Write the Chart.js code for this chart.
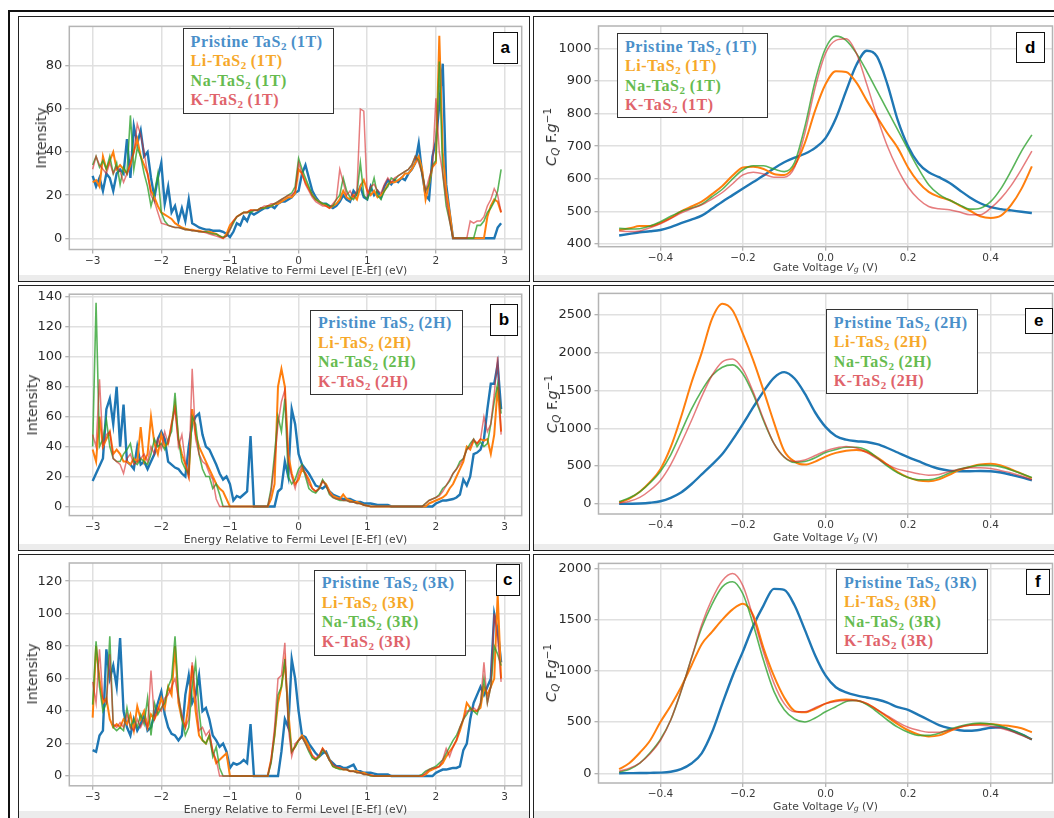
<!DOCTYPE html>
<html><head><meta charset="utf-8">
<script src="https://cdn.jsdelivr.net/npm/chart.js@4.4.0/dist/chart.umd.min.js"></script>
<style>
html,body{margin:0;padding:0;background:#fff;width:1054px;height:818px;overflow:hidden;position:relative;font-family:"DejaVu Sans",sans-serif;}
.frame{position:absolute;left:8px;top:10px;width:1100px;height:900px;box-sizing:border-box;border:2px solid #111;}
.box{position:absolute;box-sizing:border-box;border:1.5px solid #222;}
.band{position:absolute;background:#ececec;}
.leg{position:absolute;box-sizing:border-box;border:1.5px solid #333;background:#fff;font-family:"Liberation Serif","Times New Roman",serif;font-weight:bold;font-size:16px;letter-spacing:0.6px;line-height:19.5px;padding:2.5px 0 0 7px;white-space:nowrap;}
.leg sub{font-size:11px;vertical-align:-3px;line-height:0;letter-spacing:0;}
.lab{position:absolute;box-sizing:border-box;border:1.5px solid #111;background:#fff;font-family:"Liberation Sans",Arial,sans-serif;font-weight:bold;font-size:17px;display:flex;align-items:center;justify-content:center;}
.xt{position:absolute;font-size:10.8px;color:#444;white-space:nowrap;transform:translate(-50%,-50%);}
.yt{position:absolute;font-size:14px;color:#333;white-space:nowrap;transform:translate(-50%,-50%) rotate(-90deg);}
.yq{font-size:14.5px;}
.yt sub,.xt sub{font-size:0.72em;vertical-align:-0.25em;line-height:0;}
.yt sup{font-size:0.72em;vertical-align:0.5em;line-height:0;}
canvas{position:absolute;}
</style></head><body>
<div class="frame"></div>
<script>
// ---------- shared axes ----------
const energy = [-3,-2.95,-2.9,-2.85,-2.8,-2.75,-2.7,-2.65,-2.6,-2.55,
-2.5,-2.45,-2.4,-2.35,-2.3,-2.25,-2.2,-2.15,-2.1,-2.05,
-2,-1.95,-1.9,-1.85,-1.8,-1.75,-1.7,-1.65,-1.6,-1.55,
-1.5,-1.45,-1.4,-1.35,-1.3,-1.25,-1.2,-1.15,-1.1,-1.05,
-1,-0.95,-0.9,-0.85,-0.8,-0.75,-0.7,-0.65,-0.6,-0.55,
-0.5,-0.45,-0.4,-0.35,-0.3,-0.25,-0.2,-0.15,-0.1,-0.05,
0,0.05,0.1,0.15,0.2,0.25,0.3,0.35,0.4,0.45,
0.5,0.55,0.6,0.65,0.7,0.75,0.8,0.85,0.9,0.95,
1,1.05,1.1,1.15,1.2,1.25,1.3,1.35,1.4,1.45,
1.5,1.55,1.6,1.65,1.7,1.75,1.8,1.85,1.9,1.95,
2,2.05,2.1,2.15,2.2,2.25,2.3,2.35,2.4,2.45,
2.5,2.55,2.6,2.65,2.7,2.75,2.8,2.85,2.9,2.95];
const gate = [-0.5,-0.475,-0.45,-0.425,-0.4,-0.375,-0.35,-0.325,-0.3,-0.275,
-0.25,-0.225,-0.2,-0.175,-0.15,-0.125,-0.1,-0.075,-0.05,-0.025,
0,0.025,0.05,0.075,0.1,0.125,0.15,0.175,0.2,0.225,
0.25,0.275,0.3,0.325,0.35,0.375,0.4,0.425,0.45,0.475,0.5];

const energyTicks = [-3,-2,-1,0,1,2,3];
const gateTicks = [-0.4,-0.2,0,0.2,0.4];
const ticksA = [0,20,40,60,80];
const ticksB = [0,20,40,60,80,100,120,140];
const ticksC = [0,20,40,60,80,100,120];
const ticksD = [400,500,600,700,800,900,1000];
const ticksE = [0,500,1000,1500,2000,2500];
const ticksF = [0,500,1000,1500,2000];

const materials = ['Pristine TaS','Li-TaS','Na-TaS','K-TaS'];

// ---------- panel a : DOS 1T ----------
const pristine1T = [29,24,28,22,30,28,22,30,32,30, 46,28,52,44,50,38,40,28,19,28, 35,16,24,12,15,8,14,8,18,7, 6,5,4.5,4,4,3.5,3.5,3.5,3,2, 0.5,3,7,6,10,8,12,11,12,13, 14,14,15,14,16,17,17,18,19,21, 22,30,34,28,22,19,17,16,16,15, 14,15,17,20,18,17,22,20,24,19, 18,24,20,22,19,24,27,25,27,26, 28,27,30,32,35,44,30,20,18,38, 45,62,81,25,12,0,0,0,0,0, 0,0,0,0,0,0,0,0,5,7];
const li1T = [26,27,24,38,32,36,40,32,34,32, 30,34,40,46,38,34,30,22,19,15, 12,11,10,9,7,6,5,4.5,4,4, 3.5,3.5,3,3,3,2.5,2,1,0,2, 6,8,10,11,12,12,13,13,13,14, 14,15,15,16,16,17,18,19,19,21, 32,30,26,23,20,18,17,16,15,14, 15,16,18,22,19,18,20,18,24,27, 22,20,22,19,20,22,25,26,26,27, 28,30,30,32,35,38,32,18,25,33, 35,94,40,22,12,0,0,0,0,0, 0,0,0,0,0,10,15,18,17,12];
const na1T = [34,38,33,36,32,38,30,35,25,33, 30,57,32,42,38,30,24,15,21,30, 12,8,6,5.5,5,5,4.5,4,4,3.5, 3.5,3,3,3,2.5,2,2,1,0.5,1, 4,7,10,11,12,12,12,13,13,14, 14,15,15,16,17,18,19,20,21,24, 37,32,28,24,20,18,17,16,16,15, 15,18,20,28,22,19,18,21,35,20, 18,22,28,20,18,22,24,28,27,29, 30,31,32,34,38,36,30,22,25,34, 36,82,30,15,8,0,0,0,0,0, 0,0,6,6,8,12,14,17,22,32];
const k1T = [32,38,34,32,30,35,30,33,31,26, 30,35,40,53,48,40,30,20,17,12, 7,6.5,6,5.5,5,5,4.5,4,4,3.5, 3.5,3,3,2.5,2,1.5,1,0.5,0,1, 4,8,10,11,12,12,13,13,13,14, 15,15,16,16,17,18,19,20,20,22, 35,30,25,22,19,17,16,15,15,14, 16,18,32,26,20,22,19,22,60,59, 20,24,25,22,21,25,28,26,28,29, 30,31,32,34,38,35,30,22,28,33, 65,40,30,18,8,0,0,0,0,0, 8,7,8,8,10,15,18,23,20,12];

// ---------- panel b : DOS 2H ----------
const pristine2H = [17,22,27,32,65,72,55,80,40,68, 30,28,25,40,28,30,25,30,35,45, 50,45,30,28,26,25,22,20,40,55, 60,62,48,40,38,33,28,22,18,20, 15,4,7,6,8,10,47,0,0,0, 0,0,0,0,10,12,30,20,65,55, 35,28,25,22,18,14,13,12,14,10, 8,7,6,5,5,5,4,3,3,2, 2,2,1.5,1,1,1,1,0,0,0, 0,0,0,0,0,0,0,0,0,0, 2,3,4,4,4.5,5,6,8,18,14, 20,35,36,38,45,65,82,82,95,65];
const li2H = [38,30,60,40,45,50,35,38,35,30, 30,28,32,30,53,30,35,60,42,35, 48,40,42,55,68,45,35,28,20,65, 48,40,35,30,25,20,15,12,10,5, 0,0,0,0,0,0,0,0,0,0, 0,0,5,15,80,92,80,35,22,15, 18,25,22,18,12,10,12,17,15,10, 7,6,5,8,5,4,3,3,2,1, 0.5,0,0,0,0,0,0,0,0,0, 0,0,0,0,0,0,0,0,2,3, 4,5,6,8,12,15,20,25,30,40, 38,44,42,45,44,45,35,48,80,50];
const na2H = [40,136,40,45,58,40,32,30,30,35, 38,42,30,28,32,30,28,35,45,40, 42,38,45,50,76,45,30,25,22,60, 55,35,25,20,20,12,15,8,0,0, 0,0,0,0,0,0,0,0,0,0, 0,0,12,35,60,50,72,20,15,18, 25,28,20,12,10,9,12,18,14,8, 6,5,4,4,4,3,3,2,2,1, 0.5,0,0,0,0,0,0,0,0,0, 0,0,0,0,0,0,0,2,4,5, 6,8,12,14,17,22,25,30,32,38, 42,45,40,43,40,42,55,70,82,62];
const k2H = [48,40,85,40,48,50,32,30,28,22, 32,35,28,30,32,35,30,40,35,45, 38,50,42,55,65,40,48,30,20,92, 45,35,30,28,22,18,5,0,0,0, 0,0,0,0,0,0,0,0,0,0, 0,0,10,30,55,70,78,30,20,12, 22,27,22,15,12,10,12,17,14,9, 6,5,5,4,4,3,3,2,2,1, 0.5,0,0,0,0,0,0,0,0,0, 0,0,0,0,0,0,0,2,4,5, 6,7,10,14,18,22,25,28,32,38, 40,45,42,45,60,50,55,75,100,48];

// ---------- panel c : DOS 3R ----------
const pristine3R = [16,15,25,28,78,60,68,55,85,40, 30,25,35,28,32,38,28,30,38,45, 52,38,30,26,25,22,25,50,62,45, 50,62,40,42,35,25,22,18,20,15, 5,8,7,8,10,8,32,0,0,0, 0,0,0,0,0,15,35,30,72,60, 40,25,24,20,17,14,12,14,15,10, 8,6,6,5,5,6,7,3,3,2, 2,2,1.5,1,1,1,1,0,0,0, 0,0,0,0,0,0,0,0,0,0, 2,3,4,4,4.5,5,5,6,16,20, 35,45,50,55,50,55,60,100,90,70];
const li3R = [36,80,60,45,48,35,30,32,30,35, 32,38,28,43,35,40,30,38,35,40, 48,42,55,50,80,45,35,30,45,68, 40,25,22,20,25,15,8,10,12,14, 0,0,0,0,0,0,0,0,0,0, 0,0,10,25,45,55,70,40,15,18, 22,25,22,18,12,10,12,17,14,10, 6,5,5,4,4,3,3,3,2,2, 1,0.5,0,0,0,0,0,0,0,0, 0,0,0,0,0,0,0,1,3,4, 5,6,8,12,15,18,22,28,35,45, 42,40,40,42,55,50,55,60,112,60];
const na3R = [44,83,55,40,45,86,30,28,30,28, 42,30,35,30,38,32,48,25,45,38, 42,45,55,60,86,50,35,25,30,55, 70,40,22,20,25,12,18,5,0,0, 0,0,0,0,0,0,0,0,0,0, 0,0,8,25,50,55,72,35,15,18, 22,24,20,15,11,10,12,16,14,10, 6,5,4,4,4,3,3,2,2,1, 1,0,0,0,0,0,0,0,0,0, 0,0,0,0,0,0,1,3,4,5, 6,8,10,14,18,22,25,30,35,38, 42,40,38,45,60,45,55,80,75,68];
const k3R = [58,45,78,48,45,75,32,30,33,30, 38,30,28,35,30,35,30,65,35,42, 40,48,50,55,60,48,38,30,35,70, 50,28,30,25,28,15,10,0,0,0, 0,0,0,0,0,0,0,0,0,0, 0,0,10,30,60,62,82,30,12,20, 22,24,20,16,13,11,13,17,14,10, 7,6,5,4,4,3,3,2,2,1, 1,0.5,0,0,0,0,0,0,0,0, 0,0,0,0,0,0,0,2,4,5, 5,6,10,17,12,18,22,30,35,40, 40,42,40,45,70,45,55,100,85,58];

// ---------- panel d : quantum capacitance 1T ----------
const pristineCq1T = [426,431,436,439,443,452,464,475,487,508, 530,550,570,590,610,632,651,665,677,695, 725,785,870,950,993,975,890,780,700,648, 620,605,588,565,543,525,513,507,503,499, 495];
const liCq1T = [443,448,455,455,465,480,500,515,530,553, 578,610,635,637,630,615,612,640,710,810, 890,930,928,895,840,790,740,695,635,590, 560,545,535,518,502,485,480,487,520,570, 638];
const naCq1T = [448,446,447,455,468,485,500,510,522,545, 568,600,628,640,640,630,622,650,760,900, 1000,1038,1025,985,930,870,810,750,690,632, 582,552,535,520,507,510,530,570,625,685, 735];
const kCq1T = [440,438,440,450,462,478,495,508,520,538, 558,585,612,620,615,605,605,635,740,880, 985,1025,1030,985,890,790,700,630,575,538, 515,508,505,498,490,490,510,540,580,630, 685];

// ---------- panel e : quantum capacitance 2H ----------
const pristineCq2H = [0,2,5,15,35,80,150,260,390,520, 660,850,1060,1280,1490,1670,1745,1660,1460,1210, 1020,900,850,830,820,790,740,680,620,565, 510,465,440,432,432,435,432,415,385,350, 310];
const liCq2H = [20,70,160,290,460,750,1150,1600,2000,2450, 2650,2560,2250,1900,1500,1080,700,560,520,560, 625,675,705,715,690,615,520,420,350,310, 300,325,385,450,490,520,530,510,455,400, 340];
const naCq2H = [30,80,160,280,430,650,950,1250,1500,1700, 1810,1840,1720,1450,1100,800,620,550,560,610, 680,720,750,750,710,610,500,410,350,320, 320,350,410,460,490,510,510,490,450,400, 350];
const kCq2H = [10,35,85,180,310,520,800,1100,1420,1700, 1880,1920,1780,1480,1120,800,620,560,580,640, 700,740,760,740,680,600,520,460,430,400, 380,390,430,460,480,480,470,440,410,370, 320];

// ---------- panel f : quantum capacitance 3R ----------
const pristineCq3R = [0,1,2,4,6,15,40,95,195,400, 680,950,1190,1440,1640,1800,1790,1640,1400,1150, 955,840,790,760,740,720,690,645,620,570, 520,470,440,420,415,425,445,450,420,380, 330];
const liCq3R = [40,100,200,320,500,660,840,1050,1260,1380, 1500,1600,1655,1540,1220,950,740,610,595,630, 680,710,720,710,680,620,550,480,420,380, 360,370,410,450,470,480,480,470,460,440, 400];
const naCq3R = [10,40,100,200,330,520,800,1120,1420,1650, 1820,1870,1750,1450,1100,800,620,530,500,540, 600,650,700,710,670,600,520,450,400,370, 370,390,430,460,480,490,480,460,420,380, 330];
const kCq3R = [20,50,100,190,320,520,800,1120,1450,1700, 1880,1950,1830,1520,1180,880,680,600,600,640, 680,700,710,710,680,620,560,500,450,420, 400,400,420,450,470,470,460,440,410,370, 330];

// ---------- styles ----------
const lineColors = ['#1f77b4','#ff7f0e','rgba(44,160,44,0.78)','rgba(214,39,40,0.6)'];
const lineWidths = [2.4,2,1.6,1.5];
const textColors = ['#4a8fc9','#f6a82a','#66bb4f','#e0636b'];

const minus = s => String(s).replace('-', '\u2212');
const panels = [
 {lab:'a', phase:'1T', box:[18,16,530,282], plot:[69.3,26.4,521.7,249.5], xr:[-3.34,3.25], yr:[-5.2,98.3], xt:energyTicks, yt:ticksA, xs:energy, ys:[pristine1T,li1T,na1T,k1T], smooth:false,
  leg:[182.6,28.4,151.4,85.6], labBox:[492.6,32,25.4,32], band:275, xT:[295.5,270], yT:[40.6,138]},
 {lab:'b', phase:'2H', box:[18,285,530,551], plot:[69.3,294.2,521.7,515.6], xr:[-3.34,3.25], yr:[-6.1,141.8], xt:energyTicks, yt:ticksB, xs:energy, ys:[pristine2H,li2H,na2H,k2H], smooth:false,
  leg:[310,309.7,153,85.3], labBox:[490,303.7,28,32], band:544, xT:[295.5,538.6], yT:[32,405]},
 {lab:'c', phase:'3R', box:[18,554,530,822], plot:[69.3,563,521.7,785.8], xr:[-3.34,3.25], yr:[-6,131.2], xt:energyTicks, yt:ticksC, xs:energy, ys:[pristine3R,li3R,na3R,k3R], smooth:false,
  leg:[313.7,569.7,152.2,85.9], labBox:[496,563.7,23.6,32], band:811, xT:[295.5,808.8], yT:[32,674]},
 {lab:'d', phase:'1T', box:[533,16,1062,282], plot:[598.5,26,1052.5,246.7], xr:[-0.55,0.55], yr:[391.7,1069], xt:gateTicks, yt:ticksD, xs:gate, ys:[pristineCq1T,liCq1T,naCq1T,kCq1T], smooth:true,
  leg:[617,33.4,151,84.2], labBox:[1015.6,31.8,29,31.7], band:275, xT:[825.5,267.4], yT:[550.7,137]},
 {lab:'e', phase:'2H', box:[533,285,1062,551], plot:[598.5,293.4,1052.5,514], xr:[-0.55,0.55], yr:[-134,2787], xt:gateTicks, yt:ticksE, xs:gate, ys:[pristineCq2H,liCq2H,naCq2H,kCq2H], smooth:true,
  leg:[825.8,309.4,152.7,84.9], labBox:[1024.6,308.4,28.4,25.6], band:544, xT:[825.5,537.3], yT:[551.7,404]},
 {lab:'f', phase:'3R', box:[533,554,1062,822], plot:[598.5,563.4,1052.5,783], xr:[-0.55,0.55], yr:[-95,2049], xt:gateTicks, yt:ticksF, xs:gate, ys:[pristineCq3R,liCq3R,naCq3R,kCq3R], smooth:true,
  leg:[836,569.4,151.9,84.9], labBox:[1025.6,569.4,24.5,25.7], band:811, xT:[825.5,805.7], yT:[550.7,673]}
];

function el(cls, html, css){
  const d = document.createElement('div');
  d.className = cls; d.innerHTML = html;
  Object.assign(d.style, css);
  document.body.appendChild(d);
  return d;
}

const framePlugin = {
  id:'spines',
  afterDraw(chart){
    const a = chart.chartArea, c = chart.ctx;
    c.save(); c.strokeStyle = '#b4b4b4'; c.lineWidth = 1.5;
    c.strokeRect(a.left, a.top, a.right - a.left, a.bottom - a.top);
    c.restore();
  }
};

panels.forEach(p => {
  const [bl, bt, br, bb] = p.box;
  el('band', '', {left:(bl+1)+'px', top:p.band+'px', width:(br-bl-2)+'px', height:(bb-p.band)+'px'});
  el('box', '', {left:bl+'px', top:bt+'px', width:(br-bl)+'px', height:(bb-bt)+'px'});
  const cx = bl + 2, cy = bt + 2, cw = Math.round(br - bl - 4), ch = Math.round(bb - bt - 4);
  const cv = document.createElement('canvas');
  cv.width = cw; cv.height = ch;
  Object.assign(cv.style, {left:cx+'px', top:cy+'px', width:cw+'px', height:ch+'px'});
  document.body.appendChild(cv);
  const [pl, pt, pr, pb] = p.plot;
  const datasets = p.ys.map((ys, i) => ({
    data: p.xs.map((x, j) => ({x, y: ys[j]})),
    borderColor: lineColors[i], borderWidth: lineWidths[i], pointRadius: 0,
    fill: false, order: 4 - i,
    tension: 0, cubicInterpolationMode: p.smooth ? 'monotone' : 'default'
  }));
  const isGate = p.smooth;
  new Chart(cv, {
    type: 'line',
    data: {datasets},
    options: {
      responsive: false, animation: false, devicePixelRatio: 1,
      layout: {padding: {left: 0, top: pt - cy, right: (cx + cw) - pr, bottom: 0}},
      plugins: {legend: {display: false}, tooltip: {enabled: false}},
      scales: {
        x: {
          type: 'linear', min: p.xr[0], max: p.xr[1],
          afterBuildTicks: s => { s.ticks = p.xt.map(v => ({value: v})); },
          afterFit: s => { s.height = (cy + ch) - pb; s.paddingLeft = 0; s.paddingRight = 0; },
          ticks: {autoSkip: false, maxRotation: 0, padding: 1, color: '#3a3a3a',
                  font: {family: 'DejaVu Sans', size: 10.5},
                  callback: v => isGate ? minus(v.toFixed(1)) : minus(v)},
          grid: {color: '#e0e0e0', lineWidth: 1.5, tickLength: 4, tickColor: '#9a9a9a', tickWidth: 1},
          border: {display: false}
        },
        y: {
          type: 'linear', min: p.yr[0], max: p.yr[1],
          afterBuildTicks: s => { s.ticks = p.yt.map(v => ({value: v})); },
          afterFit: s => { s.width = pl - cx; s.paddingTop = 0; s.paddingBottom = 0; },
          ticks: {padding: 3, color: '#2a2a2a', font: {family: 'DejaVu Sans', size: 13},
                  callback: v => minus(v)},
          grid: {color: '#e0e0e0', lineWidth: 1.5, tickLength: 4, tickColor: '#9a9a9a', tickWidth: 1},
          border: {display: false}
        }
      }
    },
    plugins: [framePlugin]
  });
  // legend
  const rows = materials.map((m, i) => `<div style="color:${textColors[i]}">${m}<sub>2</sub> (${p.phase})</div>`).join('');
  el('leg', rows, {left:p.leg[0]+'px', top:p.leg[1]+'px', width:p.leg[2]+'px', height:p.leg[3]+'px'});
  el('lab', p.lab, {left:p.labBox[0]+'px', top:p.labBox[1]+'px', width:p.labBox[2]+'px', height:p.labBox[3]+'px'});
  // axis titles
  if (isGate) {
    el('xt', 'Gate Voltage <i>V<sub>g</sub></i> (V)', {left:p.xT[0]+'px', top:p.xT[1]+'px'});
    el('yt yq', '<i>C<sub>Q</sub></i> F.<i>g</i><sup>\u22121</sup>', {left:p.yT[0]+'px', top:p.yT[1]+'px'});
  } else {
    el('xt', 'Energy Relative to Fermi Level [E-Ef] (eV)', {left:p.xT[0]+'px', top:p.xT[1]+'px'});
    el('yt', 'Intensity', {left:p.yT[0]+'px', top:p.yT[1]+'px'});
  }
});
</script>
</body></html>
